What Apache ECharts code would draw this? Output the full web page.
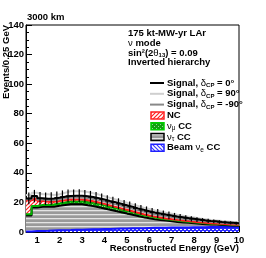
<!DOCTYPE html>
<html><head><meta charset="utf-8">
<script src="https://cdn.jsdelivr.net/npm/echarts@6/dist/echarts.min.js"></script>
<style>html,body{margin:0;padding:0;background:#fff}#c{width:266px;height:258px}</style>
</head><body><div id="c"></div>
<script>
// Bin low edges (GeV), 0.25 GeV bins
const binLow = [0.5,0.75,1.0,1.25,1.5,1.75,2.0,2.25,2.5,2.75,3.0,3.25,3.5,3.75,4.0,4.25,4.5,4.75,5.0,5.25,5.5,5.75,6.0,6.25,6.5,6.75,7.0,7.25,7.5,7.75,8.0,8.25,8.5,8.75,9.0,9.25,9.5,9.75];
const binWidth = 0.25;
// Background components (events / 0.25 GeV), stacked bottom to top
const beamNueCC = [0.4,0.6,0.7,0.8,1.0,1.1,1.2,1.3,1.5,1.6,1.7,1.8,1.9,2.0,2.1,2.2,2.3,2.4,2.5,2.6,2.6,2.7,2.8,2.8,2.9,3.0,3.0,3.1,3.1,3.2,3.2,3.2,3.3,3.3,3.3,3.3,3.4,3.4];
const nutauCC = [10.8,16.0,16.3,16.2,16.1,16.6,17.0,17.4,17.2,17.1,16.4,15.7,14.9,13.9,13.0,12.0,11.1,10.1,9.2,8.2,7.3,6.6,5.8,5.3,4.8,4.3,3.8,3.4,3.1,2.7,2.3,2.1,1.7,1.7,1.4,1.2,1.0,0.8];
const numuCC = [0.8,1.0,1.2,1.3,1.5,1.6,1.8,1.9,2.0,2.1,2.2,2.2,2.2,2.1,2.0,1.9,1.8,1.7,1.6,1.5,1.4,1.3,1.2,1.1,1.0,0.9,0.9,0.8,0.8,0.7,0.7,0.6,0.6,0.5,0.5,0.5,0.4,0.4];
const ncBkg = [9.5,5.2,2.8,2.2,1.9,1.7,1.5,1.4,1.3,1.2,1.2,1.1,1.0,1.0,0.9,0.9,0.8,0.8,0.7,0.7,0.7,0.6,0.6,0.6,0.5,0.5,0.5,0.5,0.4,0.4,0.4,0.4,0.4,0.3,0.3,0.3,0.3,0.3];
// Signal components on top of background
const signal0 = [1.2,1.5,1.8,2.0,2.1,2.2,2.3,2.4,2.5,2.6,2.7,2.8,2.9,3.0,3.0,3.1,3.1,3.1,3.1,3.0,3.0,2.9,2.8,2.7,2.6,2.5,2.3,2.2,2.0,1.9,1.8,1.6,1.5,1.4,1.3,1.2,1.1,1.0];
const signal90 = [3.5,3.8,4.5,5.0,4.5,4.5,5.0,5.5,5.6,5.6,5.5,5.4,5.3,5.2,5.1,5.0,4.9,4.8,4.7,4.6,4.5,4.4,4.2,4.0,3.8,3.6,3.4,3.2,3.0,2.8,2.6,2.4,2.2,2.0,1.9,1.8,1.6,1.5];
const signalM90 = [0.6,0.8,1.0,1.1,1.2,1.2,1.3,1.3,1.4,1.4,1.5,1.5,1.6,1.6,1.6,1.7,1.7,1.7,1.7,1.7,1.6,1.6,1.5,1.5,1.4,1.4,1.3,1.2,1.1,1.1,1.0,0.9,0.9,0.8,0.7,0.7,0.6,0.6];
// Error bar half-heights for delta_CP = 0 points
const errors0 = [4.0,4.2,4.2,4.2,4.2,4.2,4.3,4.3,4.3,4.3,4.2,4.2,4.1,4.0,3.9,3.8,3.7,3.6,3.5,3.4,3.3,3.2,3.1,3.0,2.8,2.6,2.4,2.2,2.0,1.8,1.6,1.5,1.4,1.3,1.2,1.1,1.0,1.0];
const xTicks = [1,2,3,4,5,6,7,8,9,10];

const FONT = 'Liberation Sans, Arial, Helvetica, sans-serif';

function pat(w, h, draw) {
  const c = document.createElement('canvas'); c.width = w; c.height = h;
  const g = c.getContext('2d'); draw(g, w, h); return { image: c, repeat: 'repeat' };
}
const bluePat = pat(4, 4, (g) => { g.fillStyle = '#2a2aff'; g.fillRect(0,0,4,4); g.fillStyle = '#ffffff'; g.fillRect(0,1,2,1); g.fillRect(2,3,2,1); });
const grayPat = pat(4, 4, (g) => { g.fillStyle = '#9a9a9a'; g.fillRect(0,0,4,4); g.fillStyle = '#e4e4e4'; g.fillRect(0,2,4,1.3); });
const greenPat = pat(4, 4, (g) => { g.fillStyle = '#10a010'; g.fillRect(0,0,4,4); g.fillStyle = '#8fd88f'; g.fillRect(0,0,1,1); g.fillRect(2,2,1,1); });
const redPat = pat(4, 4, (g) => { g.fillStyle = '#ffffff'; g.fillRect(0,0,4,4); g.strokeStyle = '#ff2020'; g.lineWidth = 1.2; g.beginPath(); g.moveTo(-1,5); g.lineTo(5,-1); g.moveTo(-1,1); g.lineTo(1,-1); g.moveTo(3,5); g.lineTo(5,3); g.stroke(); });
const blueLegPat = pat(4, 4, (g) => { g.fillStyle = '#ffffff'; g.fillRect(0,0,4,4); g.strokeStyle = '#3a3aff'; g.lineWidth = 1.2; g.beginPath(); g.moveTo(-1,-1); g.lineTo(5,5); g.moveTo(3,-1); g.lineTo(5,1); g.moveTo(-1,3); g.lineTo(1,5); g.stroke(); });

// Cumulative stack (library data table built from the arrays above)
const comps = [beamNueCC, nutauCC, numuCC, ncBkg];
const cum = [];
let run = binLow.map(() => 0);
comps.forEach((c) => { const base = run.slice(); run = run.map((v, i) => v + c[i]); cum.push({ base, top: run.slice() }); });
const bkgTotal = run;
const tot0 = bkgTotal.map((b, i) => b + signal0[i]);
const tot90 = bkgTotal.map((b, i) => b + signal90[i]);
const totM90 = bkgTotal.map((b, i) => b + signalM90[i]);

function steps(vals) { const d = binLow.map((x, i) => [x, vals[i]]); d.push([binLow[binLow.length - 1] + binWidth, vals[vals.length - 1]]); return d; }
function bandSeries(idx, fill) {
  return { type: 'custom', z: 2, silent: true,
    data: binLow.map((x, i) => [x, x + binWidth, cum[idx].base[i], cum[idx].top[i]]),
    encode: { x: [0, 1], y: [2, 3] },
    renderItem: function (params, api) {
      const p1 = api.coord([api.value(0), api.value(3)]);
      const p2 = api.coord([api.value(1), api.value(2)]);
      return { type: 'rect', shape: { x: Math.round(p1[0]), y: p1[1], width: Math.round(p2[0]) - Math.round(p1[0]), height: p2[1] - p1[1] }, style: { fill: fill, stroke: null } };
    } };
}
function lineSeries(vals, color, z, w) {
  return { type: 'line', step: 'end', data: steps(vals), symbol: 'none', lineStyle: { color, width: w || 2 }, z, silent: true };
}

const minorX = []; for (let v = 0.6; v < 10; v += 0.2) minorX.push(Math.round(v * 10) / 10);

const chart = echarts.init(document.getElementById('c'), null, { renderer: 'canvas' });
const T = (extra) => Object.assign({ fontFamily: FONT, fontWeight: 'bold', fontSize: 9.5, fill: '#000' }, extra);

const legTop = 83, legStep = 10.8;
const legendRich = {
  a: { fontFamily: FONT, fontWeight: 'bold', fontSize: 9.5, lineHeight: 11 },
  g: { fontFamily: FONT, fontWeight: 'normal', fontSize: 9.5, lineHeight: 11 },
  s: { fontFamily: FONT, fontWeight: 'bold', fontSize: 6, lineHeight: 8, verticalAlign: 'bottom' },
  sg: { fontFamily: FONT, fontWeight: 'normal', fontSize: 6.5, lineHeight: 8, verticalAlign: 'bottom' }
};
const legEntries = [
  { t: '{a|Signal, }{g|δ}{s|CP}{a| = 0°}', kind: 'line', color: '#000000' },
  { t: '{a|Signal, }{g|δ}{s|CP}{a| = 90°}', kind: 'line', color: '#cfcfcf' },
  { t: '{a|Signal, }{g|δ}{s|CP}{a| = -90°}', kind: 'line', color: '#888888' },
  { t: '{a|NC}', kind: 'box', fill: redPat, stroke: '#ff2020' },
  { t: '{g|ν}{sg|μ}{a| CC}', kind: 'box', fill: greenPat, stroke: '#00d000' },
  { t: '{g|ν}{sg|τ}{a| CC}', kind: 'box', fill: grayPat, stroke: '#000000' },
  { t: '{a|Beam }{g|ν}{sg|e}{a| CC}', kind: 'box', fill: blueLegPat, stroke: '#2020ff' }
];
const graphics = [
  { type: 'text', left: 27, top: 12, style: T({ text: '3000 km' }) },
  { type: 'text', x: 6, y: 25, rotation: Math.PI / 2, style: T({ text: 'Events/0.25 GeV', textAlign: 'right', textVerticalAlign: 'middle' }) },
  { type: 'text', x: 239, y: 248, style: T({ text: 'Reconstructed Energy (GeV)', textAlign: 'right', textVerticalAlign: 'middle' }) },
  { type: 'text', x: 128, y: 33, style: T({ text: '175 kt-MW-yr LAr', textVerticalAlign: 'middle' }) },
  { type: 'text', x: 128, y: 43, style: { text: '{g|ν}{a| mode}', rich: legendRich, textVerticalAlign: 'middle', fill: '#000' } },
  { type: 'text', x: 128, y: 53, style: { text: '{a|sin²(2}{g|θ}{s|13}{a|) = 0.09}', rich: legendRich, textVerticalAlign: 'middle', fill: '#000' } },
  { type: 'text', x: 128, y: 62, style: T({ text: 'Inverted hierarchy', textVerticalAlign: 'middle' }) }
];
legEntries.forEach((e, i) => {
  const y = legTop + i * legStep;
  if (e.kind === 'line') {
    graphics.push({ type: 'line', shape: { x1: 150, y1: y, x2: 164, y2: y }, style: { stroke: e.color, lineWidth: 2 } });
  } else {
    graphics.push({ type: 'rect', shape: { x: 151, y: y - 3.5, width: 13, height: 7 }, style: { fill: e.fill, stroke: e.stroke, lineWidth: 1.5 } });
  }
  graphics.push({ type: 'text', x: 167, y: y, style: { text: e.t, rich: legendRich, textVerticalAlign: 'middle', fill: '#000' } });
});

chart.setOption({
  animation: false,
  backgroundColor: '#ffffff',
  grid: { left: 26, right: 27, top: 25, bottom: 26, show: true, borderColor: '#000', borderWidth: 1, backgroundColor: 'transparent' },
  xAxis: [
    { type: 'value', min: 0.5, max: 10,
      axisLine: { lineStyle: { color: '#000', width: 1 } },
      axisTick: { inside: true, length: 6, customValues: xTicks, lineStyle: { color: '#000' } },
      axisLabel: { customValues: xTicks, color: '#000', fontFamily: FONT, fontWeight: 'bold', fontSize: 9.5, margin: 3 },
      splitLine: { show: false } },
    { type: 'value', min: 0.5, max: 10, position: 'bottom',
      axisLine: { show: false },
      axisTick: { inside: true, length: 3, customValues: minorX, lineStyle: { color: '#000' } },
      axisLabel: { show: false }, splitLine: { show: false } }
  ],
  yAxis: { type: 'value', min: 0, max: 140, interval: 20,
    axisLine: { show: true, lineStyle: { color: '#000' } },
    axisTick: { show: true, inside: true, length: 6, lineStyle: { color: '#000' } },
    minorTick: { show: true, splitNumber: 4, length: 3, lineStyle: { color: '#000' } },
    axisLabel: { color: '#000', fontFamily: FONT, fontWeight: 'bold', fontSize: 9.5, margin: 2 },
    splitLine: { show: false } },
  graphic: graphics,
  series: [
    bandSeries(0, bluePat),
    bandSeries(1, grayPat),
    bandSeries(2, greenPat),
    bandSeries(3, redPat),
    lineSeries(cum[0].top, '#1515ff', 3, 2),
    lineSeries(cum[1].top, '#000000', 3, 2),
    lineSeries(cum[2].top, '#00b000', 3, 2),
    lineSeries(cum[3].top, '#ff1a1a', 3, 2),
    lineSeries(totM90, '#888888', 4),
    lineSeries(tot90, '#cfcfcf', 4),
    lineSeries(tot0, '#000000', 5),
    { type: 'custom', z: 6, silent: true,
      data: binLow.map((x, i) => [x, x + binWidth, tot0[i], errors0[i]]),
      encode: { x: [0, 1], y: 2 },
      renderItem: function (params, api) {
        const a = api.coord([api.value(0), api.value(2)]);
        const b = api.coord([api.value(1), api.value(2)]);
        const yt = api.coord([api.value(0), api.value(2) + api.value(3)])[1];
        const yb = api.coord([api.value(0), Math.max(0, api.value(2) - api.value(3))])[1];
        const cx = (a[0] + b[0]) / 2;
        return { type: 'group', children: [
          { type: 'line', shape: { x1: a[0] + 0.5, y1: a[1], x2: b[0] - 0.5, y2: a[1] }, style: { stroke: '#000', lineWidth: 1.2 } },
          { type: 'line', shape: { x1: cx, y1: yt, x2: cx, y2: yb }, style: { stroke: '#000', lineWidth: 1.2 } }
        ] };
      } }
  ]
});
</script></body></html>
